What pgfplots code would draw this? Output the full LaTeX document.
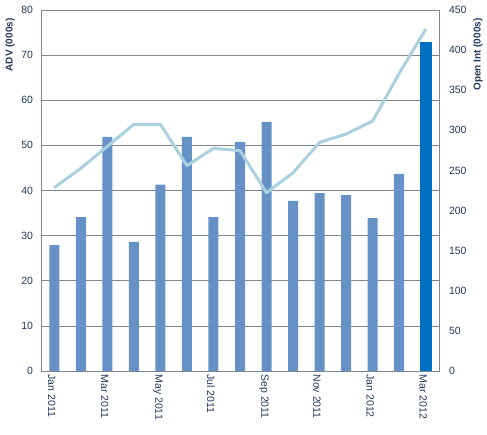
\documentclass[border=0pt]{standalone}
\usepackage{pgfplots}
\pgfplotsset{compat=1.18}
\usepackage{fontspec}
\setmainfont{Liberation Sans}
\definecolor{barc}{RGB}{101,145,199}
\definecolor{barlast}{RGB}{0,112,192}
\definecolor{linec}{RGB}{170,208,224}
\definecolor{txt}{RGB}{35,55,95}
\definecolor{gridc}{RGB}{128,134,144}
\begin{document}
\begin{tikzpicture}
\pgfplotsset{every axis/.append style={scale only axis, width=398pt, height=361pt,
  xmin=-0.5, xmax=14.5, major tick length=0pt, clip=false,
  ticklabel style={font=\fontsize{10.5}{12}\selectfont, text=txt},
  /pgf/number format/assume math mode=true}}
\begin{axis}[
  ymin=0, ymax=80, ytick={0,10,...,80},
  axis line style={gridc, line width=0.6pt},
  ymajorgrids, grid style={gridc, line width=0.6pt},
  xtick={0,2,...,14},
  xticklabels={Jan 2011, Mar 2011, May 2011, Jul 2011, Sep 2011, Nov 2011, Jan 2012, Mar 2012},
  x tick label style={rotate=-90, anchor=west, yshift=-2.5pt},
  y tick label style={xshift=-4.5pt},
  ytick pos=left, xtick pos=bottom,
]
\addplot[ybar, bar width=10pt, fill=barc, draw=none] coordinates {
(0,27.9) (1,34.1) (2,51.9) (3,28.6) (4,41.3) (5,51.9) (6,34.1) (7,50.7)
(8,55.2) (9,37.7) (10,39.4) (11,39.0) (12,33.9) (13,43.7)};
\addplot[ybar, bar width=12pt, fill=barlast, draw=none] coordinates {(14,72.9)};
\node[rotate=90, anchor=east, font=\bfseries\fontsize{10}{12}\selectfont, text=txt]
  at ([xshift=-31pt,yshift=-5pt]rel axis cs:0,1) {ADV (000s)};
\node[rotate=90, anchor=east, font=\bfseries\fontsize{10}{12}\selectfont, text=txt]
  at ([xshift=39pt,yshift=-5pt]rel axis cs:1,1) {Open Int (000s)};
\end{axis}
\begin{axis}[
  ymin=0, ymax=450, ytick={0,50,...,450},
  axis x line=none, axis y line*=right, axis line style={draw=none},
  y tick label style={xshift=6.5pt},
]
\addplot[linec, line width=3pt, line join=round] coordinates {
(0,228.5) (1,252.7) (2,280) (3,307.5) (4,307.5) (5,256) (6,277.6) (7,274.6)
(8,222.3) (9,247.2) (10,285) (11,295.4) (12,311.6) (13,371) (14,426)};
\end{axis}
\pgfresetboundingbox
\path (-41pt,-63pt) rectangle (446pt,371pt);
\end{tikzpicture}
\end{document}
